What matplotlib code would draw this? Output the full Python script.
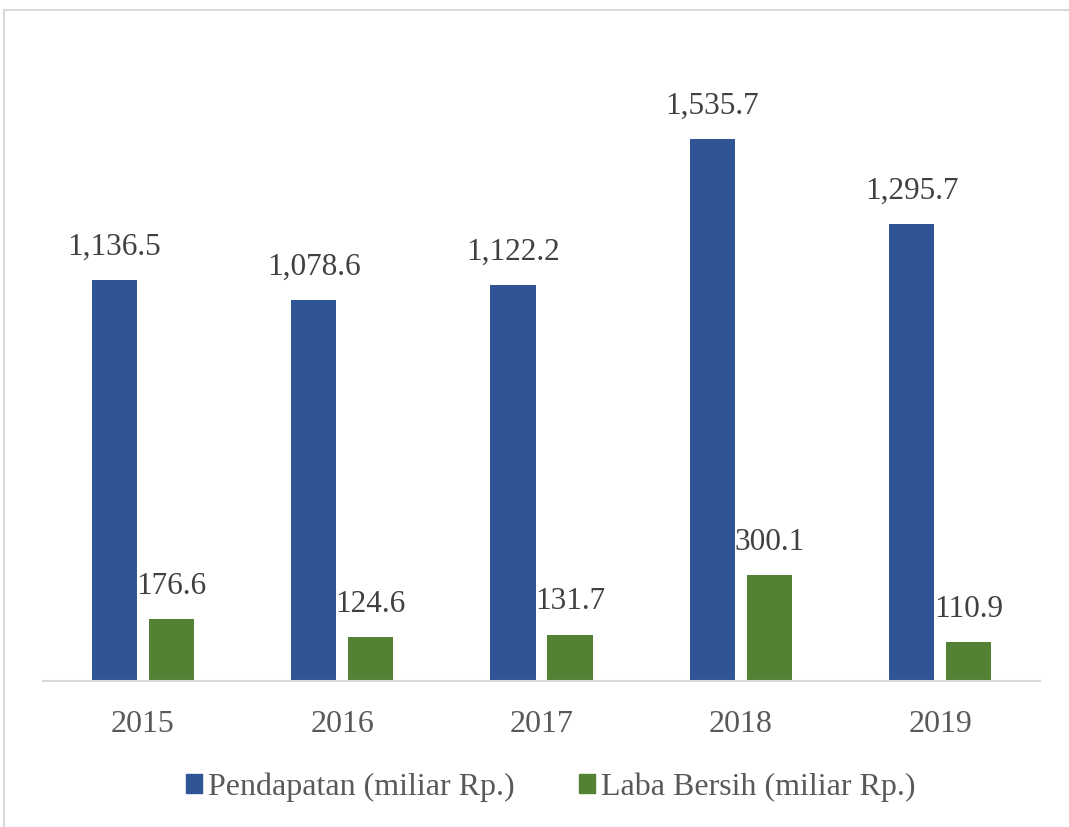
import numpy as np
import matplotlib.pyplot as plt
from matplotlib.patches import Patch, Rectangle

years = ["2015", "2016", "2017", "2018", "2019"]
pendapatan = [1136.5, 1078.6, 1122.2, 1535.7, 1295.7]
laba_bersih = [176.6, 124.6, 131.7, 300.1, 110.9]

blue = "#2F5597"
green = "#548235"
label_color = "#404040"
tick_color = "#595959"

plt.rcParams['font.family'] = ['Liberation Serif', 'DejaVu Serif']

W, H = 1069, 827
fig = plt.figure(figsize=(W / 100, H / 100), dpi=100)
ax = fig.add_axes([43 / W, 1 - 681 / H, (1040 - 43) / W, (681 - 45.7) / H])

x = np.arange(len(years))
bw = 0.226
gap = 0.06
off = (bw + gap) / 2
b1 = ax.bar(x - off, pendapatan, bw, color=blue)
b2 = ax.bar(x + off, laba_bersih, bw, color=green)

# data labels above each bar
for bars, vals in ((b1, pendapatan), (b2, laba_bersih)):
    for rect, v in zip(bars, vals):
        ax.annotate(f"{v:,.1f}", (rect.get_x() + rect.get_width() / 2, v),
                    xytext=(0, 13), textcoords="offset points", ha="center", va="bottom",
                    fontsize=22.5, color=label_color)

ax.set_xlim(-0.5, len(years) - 0.5)
ax.set_ylim(0, 1800)
ax.set_xticks(x)
ax.set_xticklabels(years, fontsize=23, color=tick_color)
ax.tick_params(axis="x", length=0, pad=21)
ax.set_yticks([])
for s in ["top", "right", "left"]:
    ax.spines[s].set_visible(False)
ax.spines["bottom"].set_color("#d9d9d9")
ax.spines["bottom"].set_linewidth(1.5)

handles = [Patch(color=blue, label="Pendapatan (miliar Rp.)"),
           Patch(color=green, label="Laba Bersih (miliar Rp.)")]
fig.legend(handles=handles, loc="center", bbox_to_anchor=(0.515, 1 - 787 / H), ncol=2,
           frameon=False, fontsize=23, labelcolor=tick_color,
           handlelength=0.5, handleheight=0.5, handletextpad=0.2, columnspacing=2.0)

fig.patches.append(Rectangle((4 / W, -0.05), 1.2, 1.05 - 10 / H,
                             transform=fig.transFigure, fill=False,
                             edgecolor="#d9d9d9", linewidth=1.5))

fig.savefig("out.png", dpi=100)
